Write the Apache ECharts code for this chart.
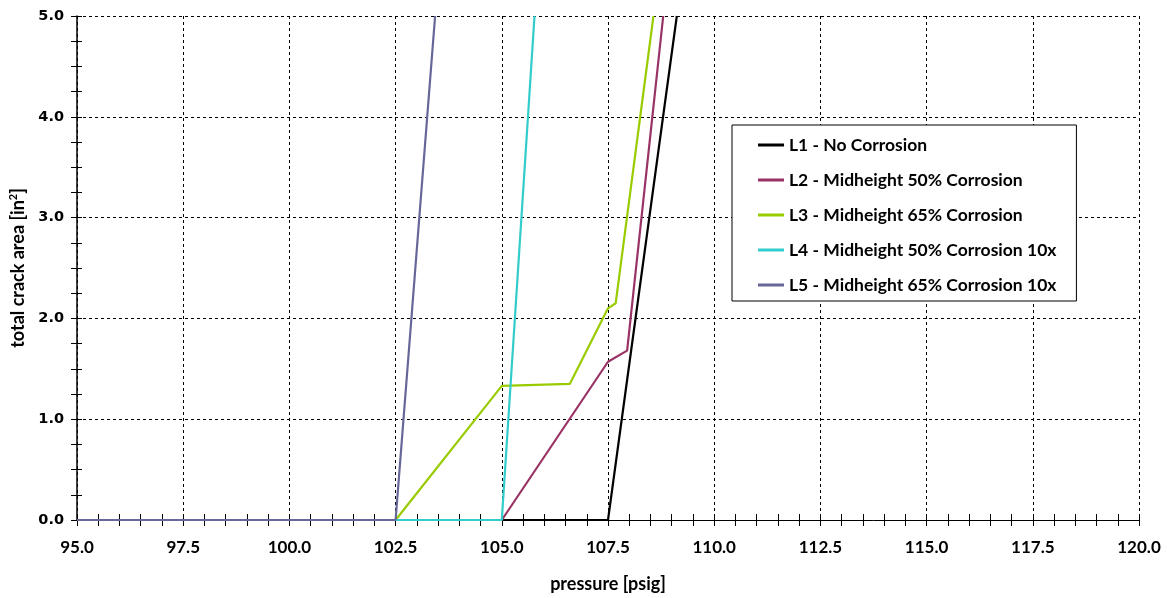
<!DOCTYPE html>
<html>
<head>
<meta charset="utf-8">
<script src="https://cdn.jsdelivr.net/npm/echarts@6/dist/echarts.min.js"></script>
<style>
  html, body { margin: 0; padding: 0; background: #fff; }
  #chart { width: 1167px; height: 598px; }
</style>
</head>
<body>
<div id="chart"></div>
<script>
// Crack area versus pressure for each load case: [pressure psig, area in^2]
const seriesNames = [
  'L1 - No Corrosion',
  'L2 - Midheight 50% Corrosion',
  'L3 - Midheight 65% Corrosion',
  'L4 - Midheight 50% Corrosion 10x',
  'L5 - Midheight 65% Corrosion 10x'
];
const l1Data = [[95.0, 0], [107.5, 0], [109.12, 5.0]];
const l2Data = [[95.0, 0], [105.0, 0], [107.5, 1.57], [107.95, 1.68], [108.8, 5.0]];
const l3Data = [[95.0, 0], [102.5, 0], [105.0, 1.33], [106.6, 1.35], [107.5, 2.10], [107.68, 2.15], [108.57, 5.0]];
const l4Data = [[95.0, 0], [105.0, 0], [105.77, 5.0]];
const l5Data = [[95.0, 0], [102.5, 0], [103.43, 5.0]];
const seriesColors = ['#000000', '#993366', '#99CC00', '#33CCCC', '#666699'];

const xMin = 95, xMax = 120, xStep = 2.5;
const yMin = 0, yMax = 5, yStep = 1;

const chart = echarts.init(document.getElementById('chart'), null, { renderer: 'canvas' });

const dashed = { show: true, lineStyle: { color: '#000', type: [3, 3], width: 1 } };
const labelFontX = { fontFamily: 'Lato', fontWeight: 'bold', fontSize: 17, color: '#000' };
const labelFontY = { fontFamily: 'DejaVu Sans', fontWeight: 'bold', fontSize: 14.5, color: '#000' };
const titleFont = { fontFamily: 'Lato', fontWeight: 'bold', fontSize: 18, color: '#000' };

const allData = [l1Data, l2Data, l3Data, l4Data, l5Data];

chart.setOption({
  animation: false,
  backgroundColor: '#fff',
  grid: { left: 77, right: 28, top: 16, bottom: 78, containLabel: false, outerBoundsMode: 'none' },
  legend: {
    orient: 'vertical',
    left: 732,
    top: 125,
    padding: [11, 20, 7, 26],
    itemGap: 17,
    itemWidth: 26,
    itemHeight: 3,
    borderColor: '#000',
    borderWidth: 1,
    backgroundColor: '#fff',
    icon: 'rect',
    textStyle: { fontFamily: 'Lato', fontWeight: 'bold', fontSize: 17.5, color: '#000' },
    data: seriesNames
  },
  xAxis: [{
    type: 'value',
    min: xMin, max: xMax, interval: xStep,
    name: 'pressure [psig]',
    nameLocation: 'middle',
    nameGap: 55,
    nameTextStyle: titleFont,
    axisLine: { show: true, onZero: false, lineStyle: { color: '#000', width: 1 } },
    axisTick: { show: true, inside: false, length: 6, lineStyle: { color: '#000' } },
    minorTick: { show: true, splitNumber: 5, length: 6, lineStyle: { color: '#000' } },
    axisLabel: Object.assign({ margin: 19, formatter: v => v.toFixed(1) }, labelFontX),
    splitLine: dashed
  }, {
    type: 'value',
    min: xMin, max: xMax, interval: xStep,
    position: 'bottom',
    axisLine: { show: false },
    axisTick: { show: true, inside: true, length: 6, lineStyle: { color: '#000' } },
    minorTick: { show: true, splitNumber: 5, length: 6, lineStyle: { color: '#000' } },
    axisLabel: { show: false },
    splitLine: { show: false }
  }],
  yAxis: [{
    type: 'value',
    min: yMin, max: yMax, interval: yStep,
    name: '{t|total crack area [in}{s|2}{t|]}',
    nameLocation: 'middle',
    nameGap: 45,
    nameRotate: 90,
    nameTextStyle: {
      rich: {
        t: Object.assign({ lineHeight: 20 }, titleFont),
        s: { fontFamily: 'Lato', fontWeight: 'bold', fontSize: 11, color: '#000', lineHeight: 20, verticalAlign: 'top' }
      }
    },
    axisLine: { show: true, onZero: false, lineStyle: { color: '#000', width: 1.5 } },
    axisTick: { show: true, inside: false, length: 6, lineStyle: { color: '#000' } },
    minorTick: { show: true, splitNumber: 4, length: 6, lineStyle: { color: '#000' } },
    axisLabel: Object.assign({ margin: 13, formatter: v => v.toFixed(1) }, labelFontY),
    splitLine: dashed
  }, {
    type: 'value',
    min: yMin, max: yMax, interval: yStep,
    position: 'left',
    offset: 0,
    axisLine: { show: false },
    axisTick: { show: true, inside: true, length: 5, lineStyle: { color: '#000' } },
    minorTick: { show: true, splitNumber: 4, length: 5, lineStyle: { color: '#000' } },
    axisLabel: { show: false },
    splitLine: { show: false }
  }],
  series: seriesNames.map((name, i) => ({
    name: name,
    type: 'line',
    xAxisIndex: 0,
    yAxisIndex: 0,
    data: allData[i],
    symbol: 'none',
    clip: true,
    z: 3 + i,
    color: seriesColors[i],
    lineStyle: { color: seriesColors[i], width: 2.2 }
  }))
});
</script>
</body>
</html>
